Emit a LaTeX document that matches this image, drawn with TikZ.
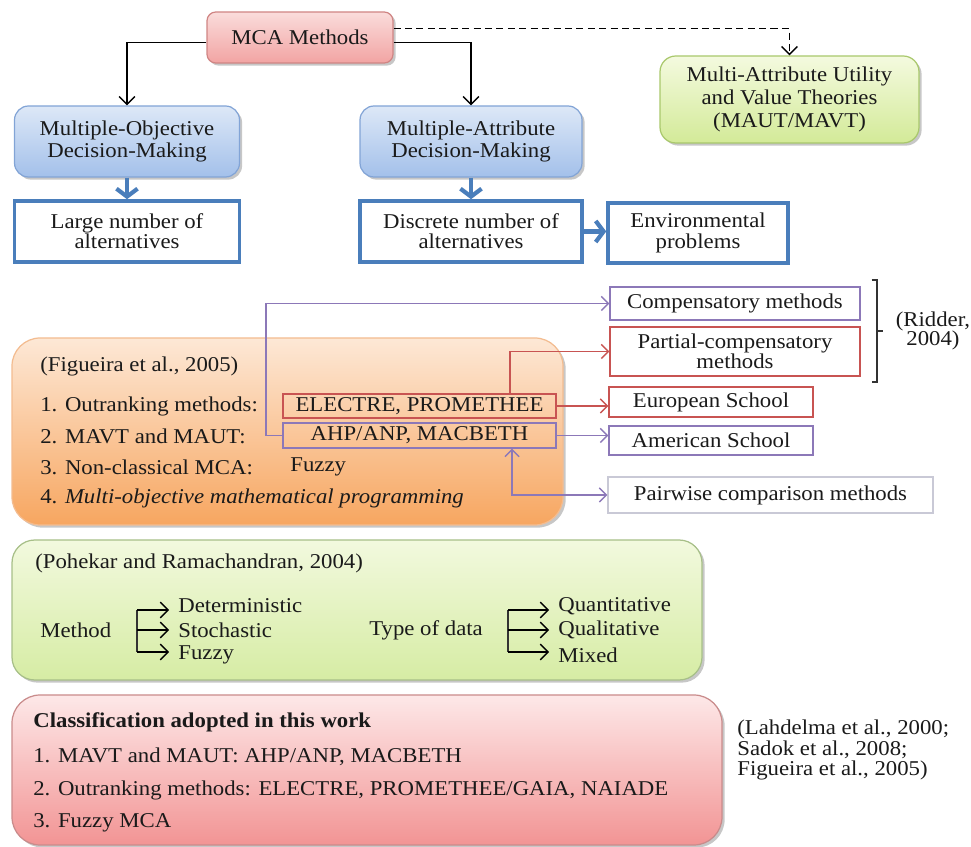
\documentclass[tikz,border=0pt]{standalone}
\usepackage{fontspec}
\setmainfont{Liberation Serif}[FakeStretch=1.08]
\usetikzlibrary{arrows.meta,shadows}
\definecolor{txt}{HTML}{1A1A1A}
\definecolor{mcaTop}{HTML}{FADCDB}
\definecolor{mcaBot}{HTML}{F2A4A3}
\definecolor{mcaDraw}{HTML}{D08584}
\definecolor{blueTop}{HTML}{DDE8F7}
\definecolor{blueBot}{HTML}{A3C0EA}
\definecolor{blueDraw}{HTML}{82A4D6}
\definecolor{blueLine}{HTML}{4A7EBB}
\definecolor{greenTop}{HTML}{F4FADF}
\definecolor{greenBot}{HTML}{D3EA98}
\definecolor{greenDraw}{HTML}{A9C86C}
\definecolor{orangeTop}{HTML}{FDE8D6}
\definecolor{orangeBot}{HTML}{F7A660}
\definecolor{orangeDraw}{HTML}{F3BC90}
\definecolor{pohTop}{HTML}{F2F9DE}
\definecolor{pohBot}{HTML}{D6ECA4}
\definecolor{pohDraw}{HTML}{A7BF88}
\definecolor{botTop}{HTML}{FDE8E8}
\definecolor{botBot}{HTML}{F29494}
\definecolor{botDraw}{HTML}{C98B8B}
\definecolor{purLine}{HTML}{8C78B8}
\definecolor{redLine}{HTML}{C85452}
\definecolor{grayDraw}{HTML}{C9C9D6}
\newcommand\pxl{0.02cm}
\tikzset{
  base/.style={inner sep=0pt, align=center, text=txt},
  lbl/.style={base, anchor=west, align=left},
  shad/.style={drop shadow={shadow xshift=1.5pt, shadow yshift=-1.5pt, opacity=0.22, fill=black}},
  mcabox/.style={base, shad, rounded corners=5pt, draw=mcaDraw, line width=0.7pt, top color=mcaTop, bottom color=mcaBot},
  bluebox/.style={base, shad, rounded corners=8pt, draw=blueDraw, line width=0.7pt, top color=blueTop, bottom color=blueBot},
  greenbox/.style={base, shad, rounded corners=9pt, draw=greenDraw, line width=0.7pt, top color=greenTop, bottom color=greenBot},
  wbox/.style={base, draw=blueLine, line width=2pt, fill=white},
  orangebox/.style={base, shad, rounded corners=16pt, draw=orangeDraw, line width=0.7pt, top color=orangeTop, bottom color=orangeBot},
  pohbox/.style={base, shad, rounded corners=13pt, draw=pohDraw, line width=0.7pt, top color=pohTop, bottom color=pohBot},
  botbox/.style={base, shad, rounded corners=16pt, draw=botDraw, line width=0.7pt, top color=botTop, bottom color=botBot},
  redbox/.style={base, draw=redLine, line width=0.8pt},
  purbox/.style={base, draw=purLine, line width=0.8pt},
  graybox/.style={base, draw=grayDraw, line width=0.8pt, fill=white},
  blk/.style={draw=black, line width=0.8pt, -{Straight Barb[length=4.5pt,width=9pt]}},
  dsh/.style={blk, dash pattern=on 4pt off 2.5pt},
  bluearrow/.style={draw=blueLine, line width=2.4pt, -{Straight Barb[length=4.5pt,width=12pt]}},
  purarrow/.style={draw=purLine, line width=0.8pt, -{Straight Barb[length=4pt,width=8pt]}},
  redarrow/.style={draw=redLine, line width=0.8pt, -{Straight Barb[length=4pt,width=8pt]}},
  purboth/.style={draw=purLine, line width=0.8pt, {Straight Barb[length=4pt,width=8pt]}-{Straight Barb[length=4pt,width=8pt]}},
  brk/.style={draw=black!80, line width=0.8pt}
}
\begin{document}
\begin{tikzpicture}[x=0.02cm, y=-0.02cm, font=\fontsize{12}{13}\selectfont]
\useasboundingbox (0,0) rectangle (971,847);

% ---------- top part ----------
\node[mcabox, minimum width=186*\pxl, minimum height=51*\pxl] (mca) at (300,37.5) {MCA Methods};
\node[bluebox, minimum width=225*\pxl, minimum height=71*\pxl, font=\fontsize{12}{13}\selectfont] (modm) at (127,141.5) {Multiple-Objective\\Decision-Making};
\node[bluebox, minimum width=222*\pxl, minimum height=71*\pxl, font=\fontsize{12}{13}\selectfont] (madm) at (471,141.5) {Multiple-Attribute\\Decision-Making};
\node[greenbox, minimum width=259*\pxl, minimum height=87*\pxl, font=\fontsize{12}{13.3}\selectfont] (maut) at (789.5,99.5) {Multi-Attribute Utility\\and Value Theories\\(MAUT/MAVT)};
\node[wbox, minimum width=225*\pxl, minimum height=61*\pxl, font=\fontsize{12}{11.5}\selectfont] (large) at (127,231.5) {Large number of\\alternatives};
\node[wbox, minimum width=222*\pxl, minimum height=61*\pxl, font=\fontsize{12}{11.5}\selectfont] (disc) at (471,231.5) {Discrete number of\\alternatives};
\node[wbox, minimum width=180*\pxl, minimum height=60*\pxl, font=\fontsize{12}{11.5}\selectfont] (env) at (698,233) {Environmental\\problems};

\draw[blk] ([yshift=-3pt]mca.west) -| (modm.north);
\draw[blk] ([yshift=-3pt]mca.east) -| (madm.north);
\draw[dsh] ([yshift=5pt]mca.east) -| (maut.north);
\draw[bluearrow] (modm.south) -- (large.north);
\draw[bluearrow] (madm.south) -- (disc.north);
\draw[bluearrow] (disc.east) -- (disc.east -| env.west);

% ---------- Figueira block ----------
\node[orangebox, minimum width=551*\pxl, minimum height=187*\pxl] (orange) at (287.5,431.5) {};
\node[lbl] (fig) at (40,366) {(Figueira et al., 2005)};
\node[lbl] (o1) at (40,406) {1. Outranking methods:};
\node[lbl] (o2) at (40,436) {2. MAVT and MAUT:};
\node[lbl] (o3) at (40,467) {3. Non-classical MCA:};
\node[lbl] (fz) at (290,467) {Fuzzy};
\node[lbl] (o4) at (40,498) {4. \textit{Multi-objective mathematical programming}};
\node[redbox, minimum width=273*\pxl, minimum height=24*\pxl] (electre) at (419.5,406) {ELECTRE, PROMETHEE};
\node[purbox, minimum width=273*\pxl, minimum height=25*\pxl] (ahp) at (419.5,435.5) {AHP/ANP, MACBETH};

\node[purbox, minimum width=250*\pxl, minimum height=33*\pxl] (comp) at (735,303.5) {Compensatory methods};
\node[redbox, minimum width=250*\pxl, minimum height=49*\pxl, font=\fontsize{12}{11.5}\selectfont] (partial) at (735,351.5) {Partial-compensatory\\methods};
\node[redbox, minimum width=204*\pxl, minimum height=30*\pxl] (euro) at (711,402) {European School};
\node[purbox, minimum width=204*\pxl, minimum height=29*\pxl] (amer) at (711,440.5) {American School};
\node[graybox, minimum width=325*\pxl, minimum height=36*\pxl] (pair) at (770.5,495) {Pairwise comparison methods};

\coordinate (px) at (266,0);
\coordinate (rx) at (510,0);
\coordinate (qx) at (512,0);
\draw[purarrow] (ahp.west) -| (px |- comp.west) -- (comp.west);
\draw[redarrow] (rx |- electre.north) |- (partial.west);
\draw[redarrow] (electre.east) -- (electre.east -| euro.west);
\draw[purarrow] (ahp.east) -- (ahp.east -| amer.west);
\draw[purboth] (qx |- ahp.south) |- (pair.west);

\coordinate (bt) at (877,280);
\coordinate (bb) at (877,382);
\coordinate (bm) at (877,331);
\draw[brk] ([xshift=-3pt]bt) -- (bt) -- (bb) -- ([xshift=-3pt]bb);
\draw[brk] (bm) -- ([xshift=3.5pt]bm);
\node[base, font=\fontsize{12}{11.3}\selectfont] (ridder) at (933,331) {(Ridder,\\2004)};

% ---------- Pohekar block ----------
\node[pohbox, minimum width=690*\pxl, minimum height=140*\pxl] (poh) at (357,610) {};
\node[lbl] (pohc) at (35,563) {(Pohekar and Ramachandran, 2004)};
\node[lbl] (meth) at (40,630) {Method};
\node[lbl] (det) at (178,606) {Deterministic};
\node[lbl] (sto) at (178,630) {Stochastic};
\node[lbl] (fzy) at (178,655) {Fuzzy};
\coordinate (m1) at (137,610);
\coordinate (m2) at (137,630);
\coordinate (m3) at (137,652);
\draw[brk] (m1) -- (m3);
\draw[blk, shorten >=5pt] (m1) -- (m1 -| det.west);
\draw[blk, shorten >=5pt] (m2) -- (m2 -| sto.west);
\draw[blk, shorten >=5pt] (m3) -- (m3 -| fzy.west);

\node[lbl] (tod) at (369,630) {Type of data};
\node[lbl] (qn) at (558,606) {Quantitative};
\node[lbl] (ql) at (558,630) {Qualitative};
\node[lbl] (mx) at (558,655) {Mixed};
\coordinate (t1) at (508,610);
\coordinate (t2) at (508,630);
\coordinate (t3) at (508,652);
\draw[brk] (t1) -- (t3);
\draw[blk, shorten >=5pt] (t1) -- (t1 -| qn.west);
\draw[blk, shorten >=5pt] (t2) -- (t2 -| ql.west);
\draw[blk, shorten >=5pt] (t3) -- (t3 -| mx.west);

% ---------- Classification block ----------
\node[botbox, minimum width=710*\pxl, minimum height=150*\pxl] (bot) at (367,770) {};
\node[lbl] (cl) at (33,722) {\textbf{Classification adopted in this work}};
\node[lbl] (c1) at (33,757) {1. MAVT and MAUT: AHP/ANP, MACBETH};
\node[lbl] (c2) at (33,790) {2. Outranking methods: ELECTRE, PROMETHEE/GAIA, NAIADE};
\node[lbl] (c3) at (33,823) {3. Fuzzy MCA};
\node[lbl, font=\fontsize{12}{11.5}\selectfont] (cite) at (737,750) {(Lahdelma et al., 2000;\\Sadok et al., 2008;\\Figueira et al., 2005)};
\end{tikzpicture}
\end{document}
